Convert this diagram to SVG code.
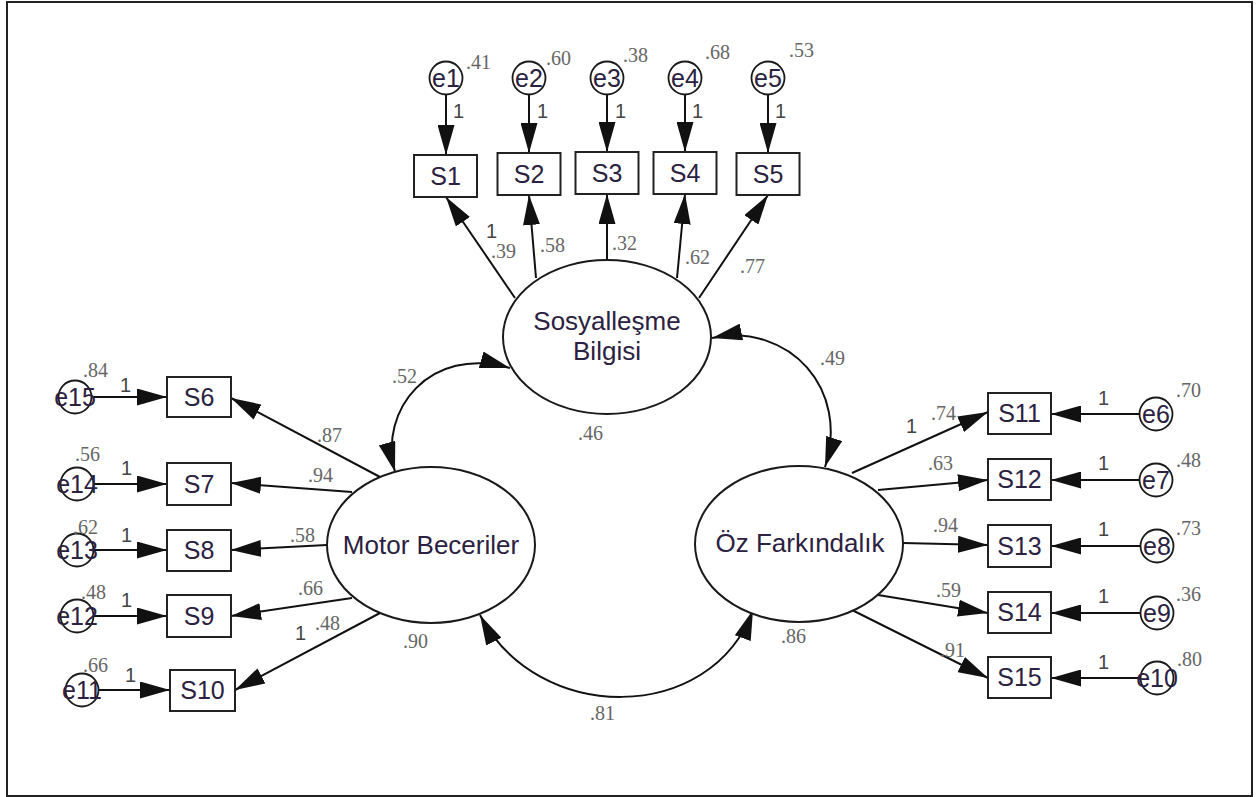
<svg xmlns="http://www.w3.org/2000/svg" width="1256" height="797" viewBox="0 0 1256 797">
<defs>
<marker id="ah" markerUnits="userSpaceOnUse" markerWidth="30" markerHeight="17" refX="30" refY="8.5" orient="auto-start-reverse" viewBox="0 0 30 17">
<path d="M0,0 L30,8.5 L0,17 Z" fill="#111"/>
</marker>
<style>
.frame{fill:#fff;stroke:#222;stroke-width:2}
.box{fill:#fff;stroke:#222;stroke-width:2}
.lat{fill:#fff;stroke:#1a1a1a;stroke-width:2}
.err{fill:#fff;stroke:#1a1a1a;stroke-width:1.8}
.lbl{font-family:"Liberation Sans",Arial,sans-serif;font-size:25px;fill:#2b2140;text-anchor:middle}
.big{font-family:"Liberation Sans",Arial,sans-serif;font-size:26px;fill:#2b2140;text-anchor:middle}
.num{font-family:"Liberation Serif","Times New Roman",serif;font-size:20px;fill:#666}
.one{font-family:"Liberation Sans",Arial,sans-serif;font-size:20px;fill:#444}
.cn{fill:none;stroke:#111;stroke-width:2}
</style>
</defs>
<rect class="frame" x="7" y="2" width="1245" height="794"/>

<g id="connectors">
<line class="cn" x1="446" y1="95" x2="446" y2="155" marker-end="url(#ah)"/>
<line class="cn" x1="529" y1="95" x2="529" y2="153" marker-end="url(#ah)"/>
<line class="cn" x1="607" y1="95" x2="607" y2="152" marker-end="url(#ah)"/>
<line class="cn" x1="685" y1="95" x2="685" y2="152" marker-end="url(#ah)"/>
<line class="cn" x1="768" y1="95" x2="768" y2="153" marker-end="url(#ah)"/>
<line class="cn" x1="515" y1="298" x2="446" y2="197" marker-end="url(#ah)"/>
<line class="cn" x1="536" y1="278" x2="529" y2="195" marker-end="url(#ah)"/>
<line class="cn" x1="607" y1="260" x2="607" y2="194" marker-end="url(#ah)"/>
<line class="cn" x1="677" y1="278" x2="685" y2="194" marker-end="url(#ah)"/>
<line class="cn" x1="699" y1="298" x2="768" y2="195" marker-end="url(#ah)"/>
<line class="cn" x1="380" y1="477" x2="231" y2="398" marker-end="url(#ah)"/>
<line class="cn" x1="352" y1="492" x2="231" y2="483" marker-end="url(#ah)"/>
<line class="cn" x1="327" y1="545" x2="231" y2="550" marker-end="url(#ah)"/>
<line class="cn" x1="352" y1="598" x2="231" y2="616" marker-end="url(#ah)"/>
<line class="cn" x1="380" y1="613" x2="235" y2="690" marker-end="url(#ah)"/>
<line class="cn" x1="852" y1="473" x2="988" y2="412" marker-end="url(#ah)"/>
<line class="cn" x1="878" y1="490" x2="988" y2="480" marker-end="url(#ah)"/>
<line class="cn" x1="903" y1="543" x2="988" y2="545" marker-end="url(#ah)"/>
<line class="cn" x1="878" y1="595" x2="988" y2="613" marker-end="url(#ah)"/>
<line class="cn" x1="852" y1="610" x2="988" y2="678" marker-end="url(#ah)"/>
<line class="cn" x1="91" y1="397" x2="167" y2="397" marker-end="url(#ah)"/>
<line class="cn" x1="93" y1="484" x2="167" y2="484" marker-end="url(#ah)"/>
<line class="cn" x1="93" y1="550" x2="167" y2="550" marker-end="url(#ah)"/>
<line class="cn" x1="93" y1="616" x2="167" y2="616" marker-end="url(#ah)"/>
<line class="cn" x1="98" y1="690" x2="170" y2="690" marker-end="url(#ah)"/>
<line class="cn" x1="1140" y1="414" x2="1051" y2="414" marker-end="url(#ah)"/>
<line class="cn" x1="1140" y1="480" x2="1051" y2="480" marker-end="url(#ah)"/>
<line class="cn" x1="1140" y1="546" x2="1051" y2="546" marker-end="url(#ah)"/>
<line class="cn" x1="1140" y1="613" x2="1051" y2="613" marker-end="url(#ah)"/>
<line class="cn" x1="1140" y1="678" x2="1051" y2="678" marker-end="url(#ah)"/>
<path class="cn" d="M395,472 C378,410 430,345 510,368" marker-start="url(#ah)" marker-end="url(#ah)"/>
<path class="cn" d="M712,338 C790,322 850,390 825,467" marker-start="url(#ah)" marker-end="url(#ah)"/>
<path class="cn" d="M480,615 C537,725 711,725 753,610" marker-start="url(#ah)" marker-end="url(#ah)"/>
</g>

<g id="sosyallesme"><ellipse class="lat" cx="607" cy="337" rx="104" ry="77"/><text class="big" x="607" y="330">Sosyalleşme</text><text class="big" x="607" y="360">Bilgisi</text><text class="num" x="578" y="440">.46</text></g>
<g id="motor"><ellipse class="lat" cx="431" cy="545" rx="104" ry="78"/><text class="big" x="431" y="554">Motor Beceriler</text><text class="num" x="403" y="648">.90</text></g>
<g id="oz"><ellipse class="lat" cx="799" cy="544" rx="104" ry="78"/><text class="big" x="800" y="552">Öz Farkındalık</text><text class="num" x="781" y="643">.86</text></g>

<g id="S1"><rect class="box" x="414" y="155" width="63" height="42"/><text class="lbl" x="445.5" y="185">S1</text></g>
<g id="S2"><rect class="box" x="497.5" y="153" width="63" height="42"/><text class="lbl" x="529" y="183">S2</text></g>
<g id="S3"><rect class="box" x="575.5" y="152" width="63" height="42"/><text class="lbl" x="607" y="182">S3</text></g>
<g id="S4"><rect class="box" x="653.5" y="152" width="63" height="42"/><text class="lbl" x="685" y="182">S4</text></g>
<g id="S5"><rect class="box" x="736.5" y="153" width="63" height="42"/><text class="lbl" x="768" y="183">S5</text></g>
<g id="S6"><rect class="box" x="167" y="377" width="64" height="40"/><text class="lbl" x="199" y="406">S6</text></g>
<g id="S7"><rect class="box" x="167" y="463" width="64" height="42"/><text class="lbl" x="199" y="493">S7</text></g>
<g id="S8"><rect class="box" x="167" y="530" width="64" height="41"/><text class="lbl" x="199" y="559">S8</text></g>
<g id="S9"><rect class="box" x="167" y="595" width="64" height="42"/><text class="lbl" x="199" y="625">S9</text></g>
<g id="S10"><rect class="box" x="170" y="670" width="65" height="41"/><text class="lbl" x="202.5" y="699">S10</text></g>
<g id="S11"><rect class="box" x="988" y="393" width="63" height="41"/><text class="lbl" x="1019.5" y="422">S11</text></g>
<g id="S12"><rect class="box" x="988" y="459" width="63" height="41"/><text class="lbl" x="1019.5" y="488">S12</text></g>
<g id="S13"><rect class="box" x="988" y="525" width="63" height="42"/><text class="lbl" x="1019.5" y="555">S13</text></g>
<g id="S14"><rect class="box" x="988" y="592" width="63" height="41"/><text class="lbl" x="1019.5" y="621">S14</text></g>
<g id="S15"><rect class="box" x="988" y="657" width="63" height="41"/><text class="lbl" x="1019.5" y="686">S15</text></g>

<g id="e1"><circle class="err" cx="446" cy="78" r="16.5"/><text class="lbl" x="446" y="87">e1</text><text class="num" x="466" y="69">.41</text></g>
<g id="e2"><circle class="err" cx="529" cy="78" r="16.5"/><text class="lbl" x="529" y="87">e2</text><text class="num" x="546" y="65">.60</text></g>
<g id="e3"><circle class="err" cx="607" cy="78" r="16.5"/><text class="lbl" x="607" y="87">e3</text><text class="num" x="623" y="62">.38</text></g>
<g id="e4"><circle class="err" cx="685" cy="78" r="16.5"/><text class="lbl" x="685" y="87">e4</text><text class="num" x="705" y="59">.68</text></g>
<g id="e5"><circle class="err" cx="768" cy="78" r="16.5"/><text class="lbl" x="768" y="87">e5</text><text class="num" x="789" y="57">.53</text></g>
<g id="e15"><circle class="err" cx="75" cy="397" r="16.5"/><text class="lbl" x="75" y="406">e15</text><text class="num" x="83" y="377">.84</text></g>
<g id="e14"><circle class="err" cx="77" cy="484" r="16.5"/><text class="lbl" x="77" y="493">e14</text><text class="num" x="75" y="461">.56</text></g>
<g id="e13"><circle class="err" cx="77" cy="550" r="16.5"/><text class="lbl" x="77" y="559">e13</text><text class="num" x="73" y="534">.62</text></g>
<g id="e12"><circle class="err" cx="77" cy="616" r="16.5"/><text class="lbl" x="77" y="625">e12</text><text class="num" x="81" y="599">.48</text></g>
<g id="e11"><circle class="err" cx="82" cy="690" r="16.5"/><text class="lbl" x="82" y="699">e11</text><text class="num" x="83" y="672">.66</text></g>
<g id="e6"><circle class="err" cx="1156" cy="414" r="16.5"/><text class="lbl" x="1156" y="423">e6</text><text class="num" x="1176" y="397">.70</text></g>
<g id="e7"><circle class="err" cx="1156" cy="480" r="16.5"/><text class="lbl" x="1156" y="489">e7</text><text class="num" x="1176" y="467">.48</text></g>
<g id="e8"><circle class="err" cx="1157" cy="546" r="16.5"/><text class="lbl" x="1157" y="555">e8</text><text class="num" x="1176" y="535">.73</text></g>
<g id="e9"><circle class="err" cx="1157" cy="613" r="16.5"/><text class="lbl" x="1157" y="622">e9</text><text class="num" x="1176" y="601">.36</text></g>
<g id="e10"><circle class="err" cx="1157" cy="678" r="16.5"/><text class="lbl" x="1157" y="687">e10</text><text class="num" x="1177" y="666">.80</text></g>

<g id="labels">
<text class="one" x="453" y="118">1</text>
<text class="one" x="537" y="118">1</text>
<text class="one" x="615" y="118">1</text>
<text class="one" x="692" y="118">1</text>
<text class="one" x="775" y="118">1</text>
<text class="one" x="486" y="238">1</text>
<text class="num" x="491" y="258">.39</text>
<text class="num" x="540" y="252">.58</text>
<text class="num" x="612" y="250">.32</text>
<text class="num" x="685" y="264">.62</text>
<text class="num" x="740" y="273">.77</text>
<text class="num" x="392" y="383">.52</text>
<text class="num" x="820" y="365">.49</text>
<text class="num" x="590" y="720">.81</text>
<text class="one" x="120" y="392">1</text>
<text class="one" x="121" y="475">1</text>
<text class="one" x="121" y="542">1</text>
<text class="one" x="121" y="607">1</text>
<text class="one" x="125" y="682">1</text>
<text class="num" x="317" y="442">.87</text>
<text class="num" x="308" y="482">.94</text>
<text class="num" x="290" y="542">.58</text>
<text class="num" x="298" y="595">.66</text>
<text class="one" x="295" y="640">1</text>
<text class="num" x="315" y="630">.48</text>
<text class="one" x="906" y="433">1</text>
<text class="num" x="931" y="420">.74</text>
<text class="num" x="928" y="470">.63</text>
<text class="num" x="933" y="532">.94</text>
<text class="num" x="936" y="597">.59</text>
<text class="num" x="940" y="657">.91</text>
<text class="one" x="1098" y="405">1</text>
<text class="one" x="1098" y="470">1</text>
<text class="one" x="1098" y="536">1</text>
<text class="one" x="1098" y="603">1</text>
<text class="one" x="1098" y="669">1</text>
</g>
</svg>
